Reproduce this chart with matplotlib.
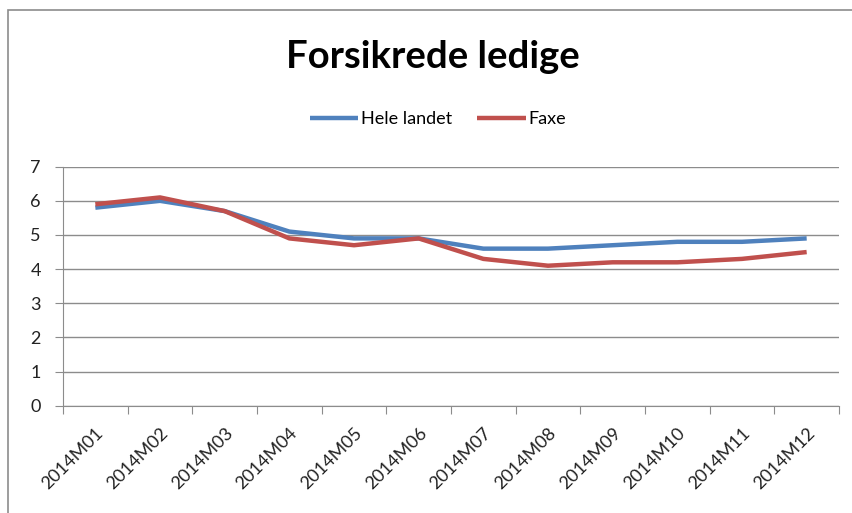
import matplotlib.pyplot as plt
from matplotlib.patches import Rectangle

months = ["2014M01", "2014M02", "2014M03", "2014M04", "2014M05", "2014M06",
          "2014M07", "2014M08", "2014M09", "2014M10", "2014M11", "2014M12"]
hele_landet = [5.8, 6.0, 5.7, 5.1, 4.9, 4.9, 4.6, 4.6, 4.7, 4.8, 4.8, 4.9]
faxe = [5.9, 6.1, 5.7, 4.9, 4.7, 4.9, 4.3, 4.1, 4.2, 4.2, 4.3, 4.5]

W, H = 853, 513
fig = plt.figure(figsize=(W / 100, H / 100), dpi=100)
plt.rcParams['font.family'] = ['Lato', 'DejaVu Sans']

# outer chart frame (runs off the right and bottom edges)
fig.patches.append(Rectangle((8 / W, -0.1), 1.2, 1 - 10 / H + 0.1,
                             transform=fig.transFigure, fill=False,
                             edgecolor='#8c8c8c', linewidth=1.2))

ax = fig.add_axes([63 / W, 1 - 405.7 / H, (839 - 63) / W, (405.7 - 166.7) / H])
x = list(range(len(months)))
ax.plot(x, hele_landet, color='#4F81BD', linewidth=3.2, label='Hele landet',
        solid_capstyle='butt')
ax.plot(x, faxe, color='#C0504D', linewidth=3.2, label='Faxe',
        solid_capstyle='butt')

ax.set_xlim(-0.5, len(months) - 0.5)
ax.set_ylim(0, 7)
ax.set_yticks(range(8))
ax.grid(axis='y', color='#8c8c8c', linewidth=1)
ax.set_axisbelow(True)

ax.set_xticks([i - 0.5 for i in range(len(months) + 1)])
ax.set_xticklabels([])
ax.set_xticks(x, minor=True)
ax.set_xticklabels(months, minor=True, rotation=45, ha='right',
                   rotation_mode='anchor', fontsize=13, color='#222222')
ax.tick_params(axis='x', which='minor', length=0, pad=14)
ax.tick_params(axis='x', which='major', length=6, color='#8c8c8c')
ax.tick_params(axis='y', length=6, color='#8c8c8c', labelsize=13,
               labelcolor='#222222', pad=10)

for side in ['top', 'right']:
    ax.spines[side].set_visible(False)
for side in ['left', 'bottom']:
    ax.spines[side].set_color('#8c8c8c')

fig.text(433 / W, 1 - 57 / H, 'Forsikrede ledige', ha='center', va='center',
         fontsize=27.5, fontweight='bold', color='black')

fig.legend(loc='center', bbox_to_anchor=(438 / W, 1 - 119 / H), ncol=2,
           frameon=False, fontsize=13, handlelength=2.7, handletextpad=0.15,
           columnspacing=1.4)

fig.savefig('out.png', dpi=100)
